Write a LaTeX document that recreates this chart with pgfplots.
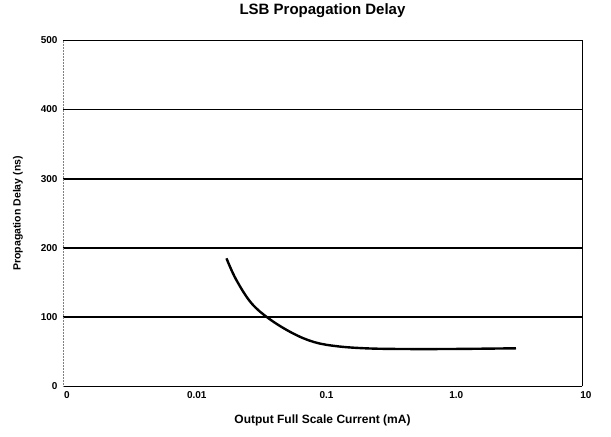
\documentclass[border=0pt]{standalone}
\usepackage{pgfplots}
\pgfplotsset{compat=1.18}
\usepackage{fontspec}
\setmainfont{Liberation Sans}
\begin{document}
\begin{tikzpicture}
\begin{axis}[
  name=ax,
  scale only axis,
  width=519pt, height=346pt,
  xmode=log,
  xmin=0.001, xmax=10,
  ymin=0, ymax=500,
  xtick={0.001,0.01,0.1,1,10},
  xticklabels={0,0.01,0.1,1.0,10},
  ytick={0,100,200,300,400,500},
  major tick length=0pt,
  minor tick length=0pt,
  axis line style={draw=none},
  ymajorgrids=true,
  major grid style={black, line width=1.6pt},
  /pgf/number format/assume math mode=true,
  tick label style={font=\fontsize{10}{12}\selectfont\bfseries},
  xticklabel style={yshift=-2pt, xshift=4pt},
  yticklabel style={xshift=-2pt},
  title={LSB Propagation Delay},
  title style={font=\fontsize{15}{17}\selectfont\bfseries, at={(0.5,1)}, anchor=center, yshift=24pt},
  xlabel={Output Full Scale Current (mA)},
  xlabel style={font=\fontsize{12}{14}\selectfont\bfseries, at={(axis description cs:0.5,-0.098)}, anchor=center},
  ylabel={Propagation Delay (ns)},
  ylabel style={font=\fontsize{10.5}{12}\selectfont\bfseries, at={(axis description cs:-0.087,0.5)}, anchor=center},
  clip=false,
]
\addplot[black, line width=2.4pt, smooth, tension=0.6] coordinates {
  (0.0182,185) (0.0215,155) (0.0281,121) (0.0386,98) (0.0586,77)
  (0.0861,64) (0.129,58) (0.213,55) (0.391,54) (0.98,54) (3.1,55)
};
\draw[line width=0.8pt] (rel axis cs:1,0) -- (rel axis cs:1,1);
\draw[gray, line width=0.5pt, densely dotted] (rel axis cs:0,0) -- (rel axis cs:0,1);
\end{axis}
\path ([shift={(-63pt,-50pt)}]ax.south west) rectangle ([shift={(29pt,38pt)}]ax.north east);
\end{tikzpicture}
\end{document}
